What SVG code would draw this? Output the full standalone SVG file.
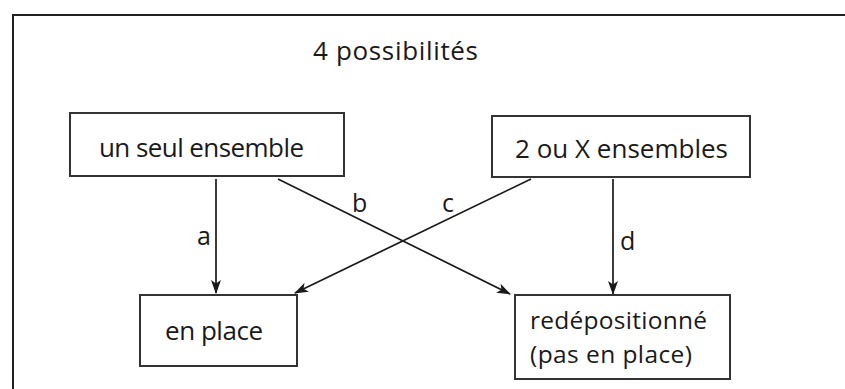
<svg xmlns="http://www.w3.org/2000/svg" width="845" height="389" viewBox="0 0 845 389">
<defs>
<style>
.box{fill:#fff;stroke:#333;stroke-width:2}
.t{font-family:"Open Sans","Liberation Sans",sans-serif;font-size:26px;fill:#1a1a1a}
.t2{font-family:"Open Sans","Liberation Sans",sans-serif;font-size:24.5px;fill:#1a1a1a}
.lbl{font-family:"Open Sans","Liberation Sans",sans-serif;font-size:25px;fill:#1a1a1a}
.con{stroke:#1a1a1a;stroke-width:1.7;fill:none;marker-end:url(#ah)}
</style>
<marker id="ah" viewBox="0 0 14 10" refX="13" refY="5" markerWidth="14" markerHeight="10" markerUnits="userSpaceOnUse" orient="auto">
<path d="M0,0 L14,5 L0,10 L3.5,5 Z" fill="#1a1a1a"/>
</marker>
</defs>
<rect width="845" height="389" fill="#fff"/>
<path d="M13,389 V15 H845" fill="none" stroke="#222" stroke-width="2"/>
<text class="t" x="313" y="60" textLength="165">4 possibilités</text>
<g id="n1"><rect class="box" x="70" y="113" width="274" height="63"/><text class="t" x="99" y="157" textLength="205">un seul ensemble</text></g>
<g id="n2"><rect class="box" x="492" y="116" width="258" height="61"/><text class="t" x="515" y="158" textLength="213">2 ou X ensembles</text></g>
<g id="n3"><rect class="box" x="140" y="295" width="157" height="71"/><text class="t" x="165" y="340" textLength="98">en place</text></g>
<g id="n4"><rect class="box" x="515" y="295" width="215" height="84"/><text class="t2" x="530" y="329" textLength="177">redépositionné</text><text class="t2" x="530" y="363" textLength="162">(pas en place)</text></g>
<g id="connectors">
<line class="con" x1="216" y1="179" x2="216" y2="293"/>
<line class="con" x1="278" y1="179" x2="510" y2="294"/>
<line class="con" x1="531" y1="179" x2="295" y2="293"/>
<line class="con" x1="613" y1="179" x2="613" y2="294"/>
<text class="lbl" x="197" y="245">a</text>
<text class="lbl" x="352" y="212">b</text>
<text class="lbl" x="442" y="212">c</text>
<text class="lbl" x="620" y="250">d</text>
</g>
</svg>
